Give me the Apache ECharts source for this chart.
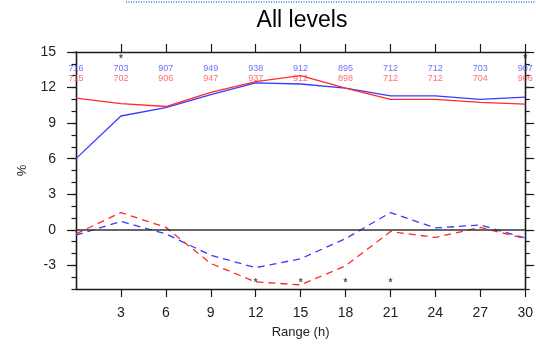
<!DOCTYPE html>
<html>
<head>
<meta charset="utf-8">
<style>
  html, body { margin: 0; padding: 0; background: #fff; }
  #chart { width: 536px; height: 344px; }
</style>
<script src="https://cdn.jsdelivr.net/npm/echarts@6/dist/echarts.min.js"></script>
</head>
<body>
<div id="chart"></div>
<script>
// Forecast range (hours)
const hours = [0, 3, 6, 9, 12, 15, 18, 21, 24, 27, 30];
const tickHours = [3, 6, 9, 12, 15, 18, 21, 24, 27, 30];
const percentTicks = [-3, 0, 3, 6, 9, 12, 15];

// Solid curves (%)
const blueSolid = [6.0, 9.6, 10.3, 11.4, 12.4, 12.3, 11.95, 11.3, 11.3, 11.0, 11.2];
const redSolid  = [11.1, 10.65, 10.4, 11.6, 12.5, 13.0, 11.95, 11.0, 11.0, 10.75, 10.6];

// Dashed curves (%)
const blueDash = [-0.45, 0.7, -0.35, -2.15, -3.2, -2.45, -0.75, 1.45, 0.15, 0.4, -0.7];
const redDash  = [-0.35, 1.45, 0.2, -2.85, -4.4, -4.65, -3.05, -0.15, -0.65, 0.2, -0.75];

// Sample counts printed along the top
const blueCounts = ['716', '703', '907', '949', '938', '912', '895', '712', '712', '703', '907'];
const redCounts  = ['715', '702', '906', '947', '937', '912', '898', '712', '712', '704', '906'];

// Hours flagged with an asterisk
const starsTop = [3, 30];
const starsBottom = [12, 15, 18, 21];

// Row levels used to place the annotation text
const blueCountRow = 13.6;
const redCountRow = 12.75;
const starTopRow = 14.35;
const starBottomRow = -4.5;

const BLUE = '#3a3aff';
const RED = '#ff2a2a';
const AXIS = '#1a1a1a';
const FONT = '"Liberation Sans", Arial, Helvetica, sans-serif';

const chart = echarts.init(document.getElementById('chart'), null, { renderer: 'canvas' });

function lineSeries(values, color, dashed) {
  return {
    type: 'line',
    data: hours.map((h, i) => [h, values[i]]),
    symbol: 'none',
    lineStyle: { color: color, width: 1.3, type: dashed ? [7, 5] : 'solid' },
    z: 3
  };
}

function textRow(labels, level, color, size, bold) {
  return {
    type: 'scatter',
    data: labels.map((h, i) => typeof h === 'number' ? [h, level, '*'] : [hours[i], level, h]),
    symbolSize: 0,
    silent: true,
    label: {
      show: true,
      position: 'inside',
      formatter: p => p.data[2],
      color: color,
      fontSize: size,
      fontWeight: bold ? 'bold' : 'normal',
      fontFamily: FONT
    },
    z: 6
  };
}

// Two stacked axes per side: one for the unit minor ticks, one for the labelled major ticks
function yAxisPair(position, withLabels) {
  const common = {
    type: 'value',
    min: -5,
    max: 15,
    position: position,
    axisLine: { show: true, onZero: false, lineStyle: { color: AXIS, width: 1.3 } },
    splitLine: { show: false }
  };
  const minor = Object.assign({}, common, {
    interval: 1,
    axisTick: { show: true, length: 4.5, lineStyle: { color: AXIS, width: 1.2 } },
    axisLabel: { show: false }
  });
  const major = Object.assign({}, common, {
    interval: 1,
    axisTick: { show: true, length: 9, customValues: percentTicks, lineStyle: { color: AXIS, width: 1.2 } },
    axisLabel: withLabels
      ? { customValues: percentTicks, margin: 20, fontFamily: FONT, fontSize: 14, color: '#222' }
      : { show: false }
  });
  if (withLabels) {
    Object.assign(major, {
      name: '%',
      nameLocation: 'middle',
      nameGap: 47,
      nameTextStyle: { fontFamily: FONT, fontSize: 13, color: '#222' }
    });
  }
  return [minor, major];
}

const xAxisBase = {
  type: 'value',
  min: 0,
  max: 30,
  interval: 3,
  axisLine: { show: true, onZero: false, lineStyle: { color: AXIS, width: 1.3 } },
  axisTick: { show: true, length: 8, customValues: tickHours, lineStyle: { color: AXIS, width: 1.2 } },
  splitLine: { show: false }
};

chart.setOption({
  animation: false,
  backgroundColor: '#fff',
  title: {
    text: 'All levels',
    left: 297,
    textAlign: 'center',
    top: 4,
    textStyle: { fontFamily: FONT, fontSize: 23, fontWeight: 'normal', color: '#000' }
  },
  grid: { left: 76, right: 6, top: 52, bottom: 53 },
  xAxis: [
    Object.assign({}, xAxisBase, {
      position: 'bottom',
      name: 'Range (h)',
      nameLocation: 'middle',
      nameGap: 37,
      nameTextStyle: { fontFamily: FONT, fontSize: 13, color: '#222' },
      axisLabel: {
        customValues: tickHours,
        margin: 17,
        fontFamily: FONT, fontSize: 14, color: '#222'
      }
    }),
    Object.assign({}, xAxisBase, {
      position: 'top',
      axisLabel: { show: false }
    })
  ],
  yAxis: yAxisPair('left', true).concat(yAxisPair('right', false)),
  graphic: [{
    type: 'line',
    shape: { x1: 126, y1: 2, x2: 536, y2: 2 },
    style: { stroke: '#3f6fd0', lineWidth: 1.5, lineDash: [1, 1.5] },
    silent: true
  }],
  series: [
    Object.assign(lineSeries(blueSolid, BLUE, false), {
      markLine: {
        silent: true,
        symbol: 'none',
        label: { show: false },
        lineStyle: { color: '#333', width: 1.5, type: 'solid' },
        data: [{ yAxis: 0 }]
      }
    }),
    lineSeries(redSolid, RED, false),
    lineSeries(blueDash, BLUE, true),
    lineSeries(redDash, RED, true),
    textRow(blueCounts, blueCountRow, '#4a4aff', 9, false),
    textRow(redCounts, redCountRow, '#ff4a4a', 9, false),
    textRow(starsTop, starTopRow, '#222', 10, true),
    textRow(starsBottom, starBottomRow, '#222', 10, true)
  ]
});
</script>
</body>
</html>
